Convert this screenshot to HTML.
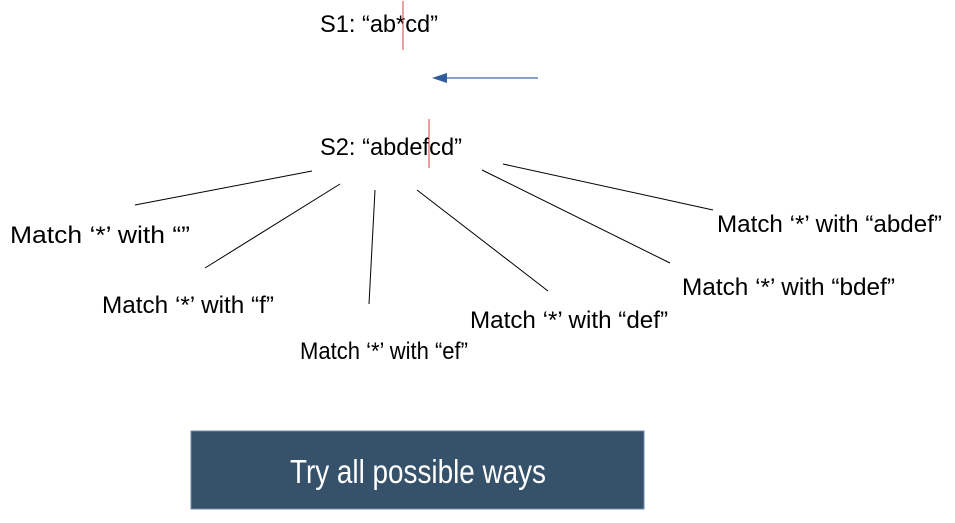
<!DOCTYPE html>
<html><head><meta charset="utf-8"><style>html,body{margin:0;padding:0;background:#fff;width:955px;height:523px;overflow:hidden}</style></head>
<body>
<svg width="955" height="523" viewBox="0 0 955 523" xmlns="http://www.w3.org/2000/svg" font-family="Liberation Sans, sans-serif">
<g font-size="24" fill="#000">
<text x="320" y="32" textLength="118" lengthAdjust="spacingAndGlyphs">S1:  “ab*cd”</text>
<text x="320" y="155" textLength="142" lengthAdjust="spacingAndGlyphs">S2:  “abdefcd”</text>
<text x="10" y="243" textLength="180" lengthAdjust="spacingAndGlyphs">Match ‘*’ with “”</text>
<text x="102" y="313" textLength="172" lengthAdjust="spacingAndGlyphs">Match ‘*’ with “f”</text>
<text x="300" y="359" textLength="168" lengthAdjust="spacingAndGlyphs">Match ‘*’ with “ef”</text>
<text x="470" y="328" textLength="198" lengthAdjust="spacingAndGlyphs">Match ‘*’ with “def”</text>
<text x="682" y="295" textLength="213" lengthAdjust="spacingAndGlyphs">Match ‘*’ with “bdef”</text>
<text x="717" y="232" textLength="225" lengthAdjust="spacingAndGlyphs">Match ‘*’ with “abdef”</text>
</g>
<line x1="403" y1="1" x2="403" y2="50" stroke="#d04040" stroke-width="1"/>
<line x1="429" y1="119" x2="429" y2="168" stroke="#d04040" stroke-width="1"/>
<line x1="538" y1="78" x2="444" y2="78" stroke="#3e6aa8" stroke-width="1.3"/>
<polygon points="432,78 447,73 447,83" fill="#2f5d9e"/>
<g stroke="#000" stroke-width="1">
<line x1="135" y1="205" x2="312" y2="171"/>
<line x1="205" y1="268" x2="340" y2="184"/>
<line x1="369" y1="304" x2="375" y2="190"/>
<line x1="417" y1="190" x2="548" y2="291"/>
<line x1="482" y1="170" x2="670" y2="263"/>
<line x1="503" y1="164" x2="713" y2="210"/>
</g>
<rect x="191" y="431" width="453" height="78" fill="#36526a" stroke="#6f8aa6" stroke-width="1"/>
<text x="290" y="483" font-size="33" fill="#fff" textLength="256" lengthAdjust="spacingAndGlyphs">Try all possible ways</text>
</svg>
</body></html>
